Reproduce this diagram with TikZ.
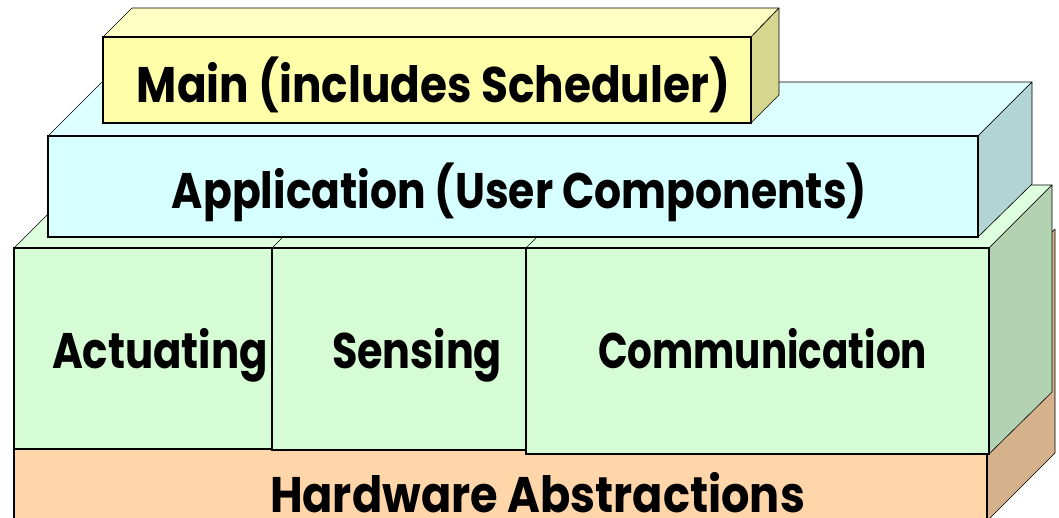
\documentclass[tikz,border=0pt]{standalone}
\usepackage{fontspec}
\setmainfont{Poppins}
\usepackage{graphicx}

% face colours of the stacked blocks
\definecolor{mainFront}{RGB}{255,255,170}
\definecolor{mainTop}{RGB}{255,255,196}
\definecolor{mainSide}{RGB}{214,214,142}
\definecolor{appFront}{RGB}{214,255,255}
\definecolor{appTop}{RGB}{222,255,255}
\definecolor{appSide}{RGB}{178,212,212}
\definecolor{grnFront}{RGB}{214,252,214}
\definecolor{grnTop}{RGB}{222,255,222}
\definecolor{grnSide}{RGB}{178,210,178}
\definecolor{hwFront}{RGB}{255,214,170}
\definecolor{hwSide}{RGB}{214,178,140}

\begin{document}
\begin{tikzpicture}[x=1pt,y=-1pt,
  backedge/.style={draw=black,line width=0.6pt,line join=round},
  frontface/.style={draw=black,line width=1.3pt,line join=miter},
  lbl/.style={anchor=base,inner sep=0pt,
    font=\fontsize{50}{60}\selectfont\bfseries}]
\useasboundingbox (0,0) rectangle (1059,517);

% ---- Hardware Abstractions (bottom slab) ----
\path[backedge,fill=hwSide] (987,293) -- (1055,229) -- (1055,453) -- (987,521) -- cycle;
\path[frontface,fill=hwFront] (14,293) rectangle (987,540);

% ---- middle layer: Actuating / Sensing / Communication ----
\path[backedge,fill=grnTop] (14,248) -- (77,185) -- (1052,185) -- (989,248) -- cycle;
\path[backedge,fill=grnSide] (989,248) -- (1052,185) -- (1052,392) -- (989,454) -- cycle;
\draw[backedge] (272,248) -- (335,185);
\draw[backedge] (526,248) -- (589,185);
\path[frontface,fill=grnFront] (14,248) rectangle (272,449);
\path[frontface,fill=grnFront] (272,248) rectangle (526,450);
\path[frontface,fill=grnFront] (526,248) rectangle (989,454);

% ---- Application slab ----
\path[backedge,fill=appTop] (48,136) -- (102,82) -- (1032,82) -- (978,136) -- cycle;
\path[backedge,fill=appSide] (978,136) -- (1032,82) -- (1032,184) -- (978,237) -- cycle;
\path[frontface,fill=appFront] (48,136) rectangle (978,237);

% ---- Main block on top ----
\path[backedge,fill=mainTop] (103,37) -- (132,8) -- (779,8) -- (751,37) -- cycle;
\path[backedge,fill=mainSide] (751,37) -- (779,8) -- (779,95) -- (751,123) -- cycle;
\path[frontface,fill=mainFront] (103,37) rectangle (751,123);

% ---- labels ----
\node[lbl] (mainLbl) at (433.5,102) {\resizebox{593pt}{\height}{Main (includes Scheduler)}};
\node[lbl] (appLbl) at (519.5,208) {\resizebox{695pt}{\height}{Application (User Components)}};
\node[lbl] (actLbl) at (160,368) {\resizebox{216pt}{\height}{Actuating}};
\node[lbl] (senLbl) at (417,368) {\resizebox{170pt}{\height}{Sensing}};
\node[lbl] (comLbl) at (762.5,368) {\resizebox{329pt}{\height}{Communication}};
\node[lbl] (hwLbl) at (537.5,512) {\resizebox{535pt}{\height}{Hardware Abstractions}};
\end{tikzpicture}
\end{document}
